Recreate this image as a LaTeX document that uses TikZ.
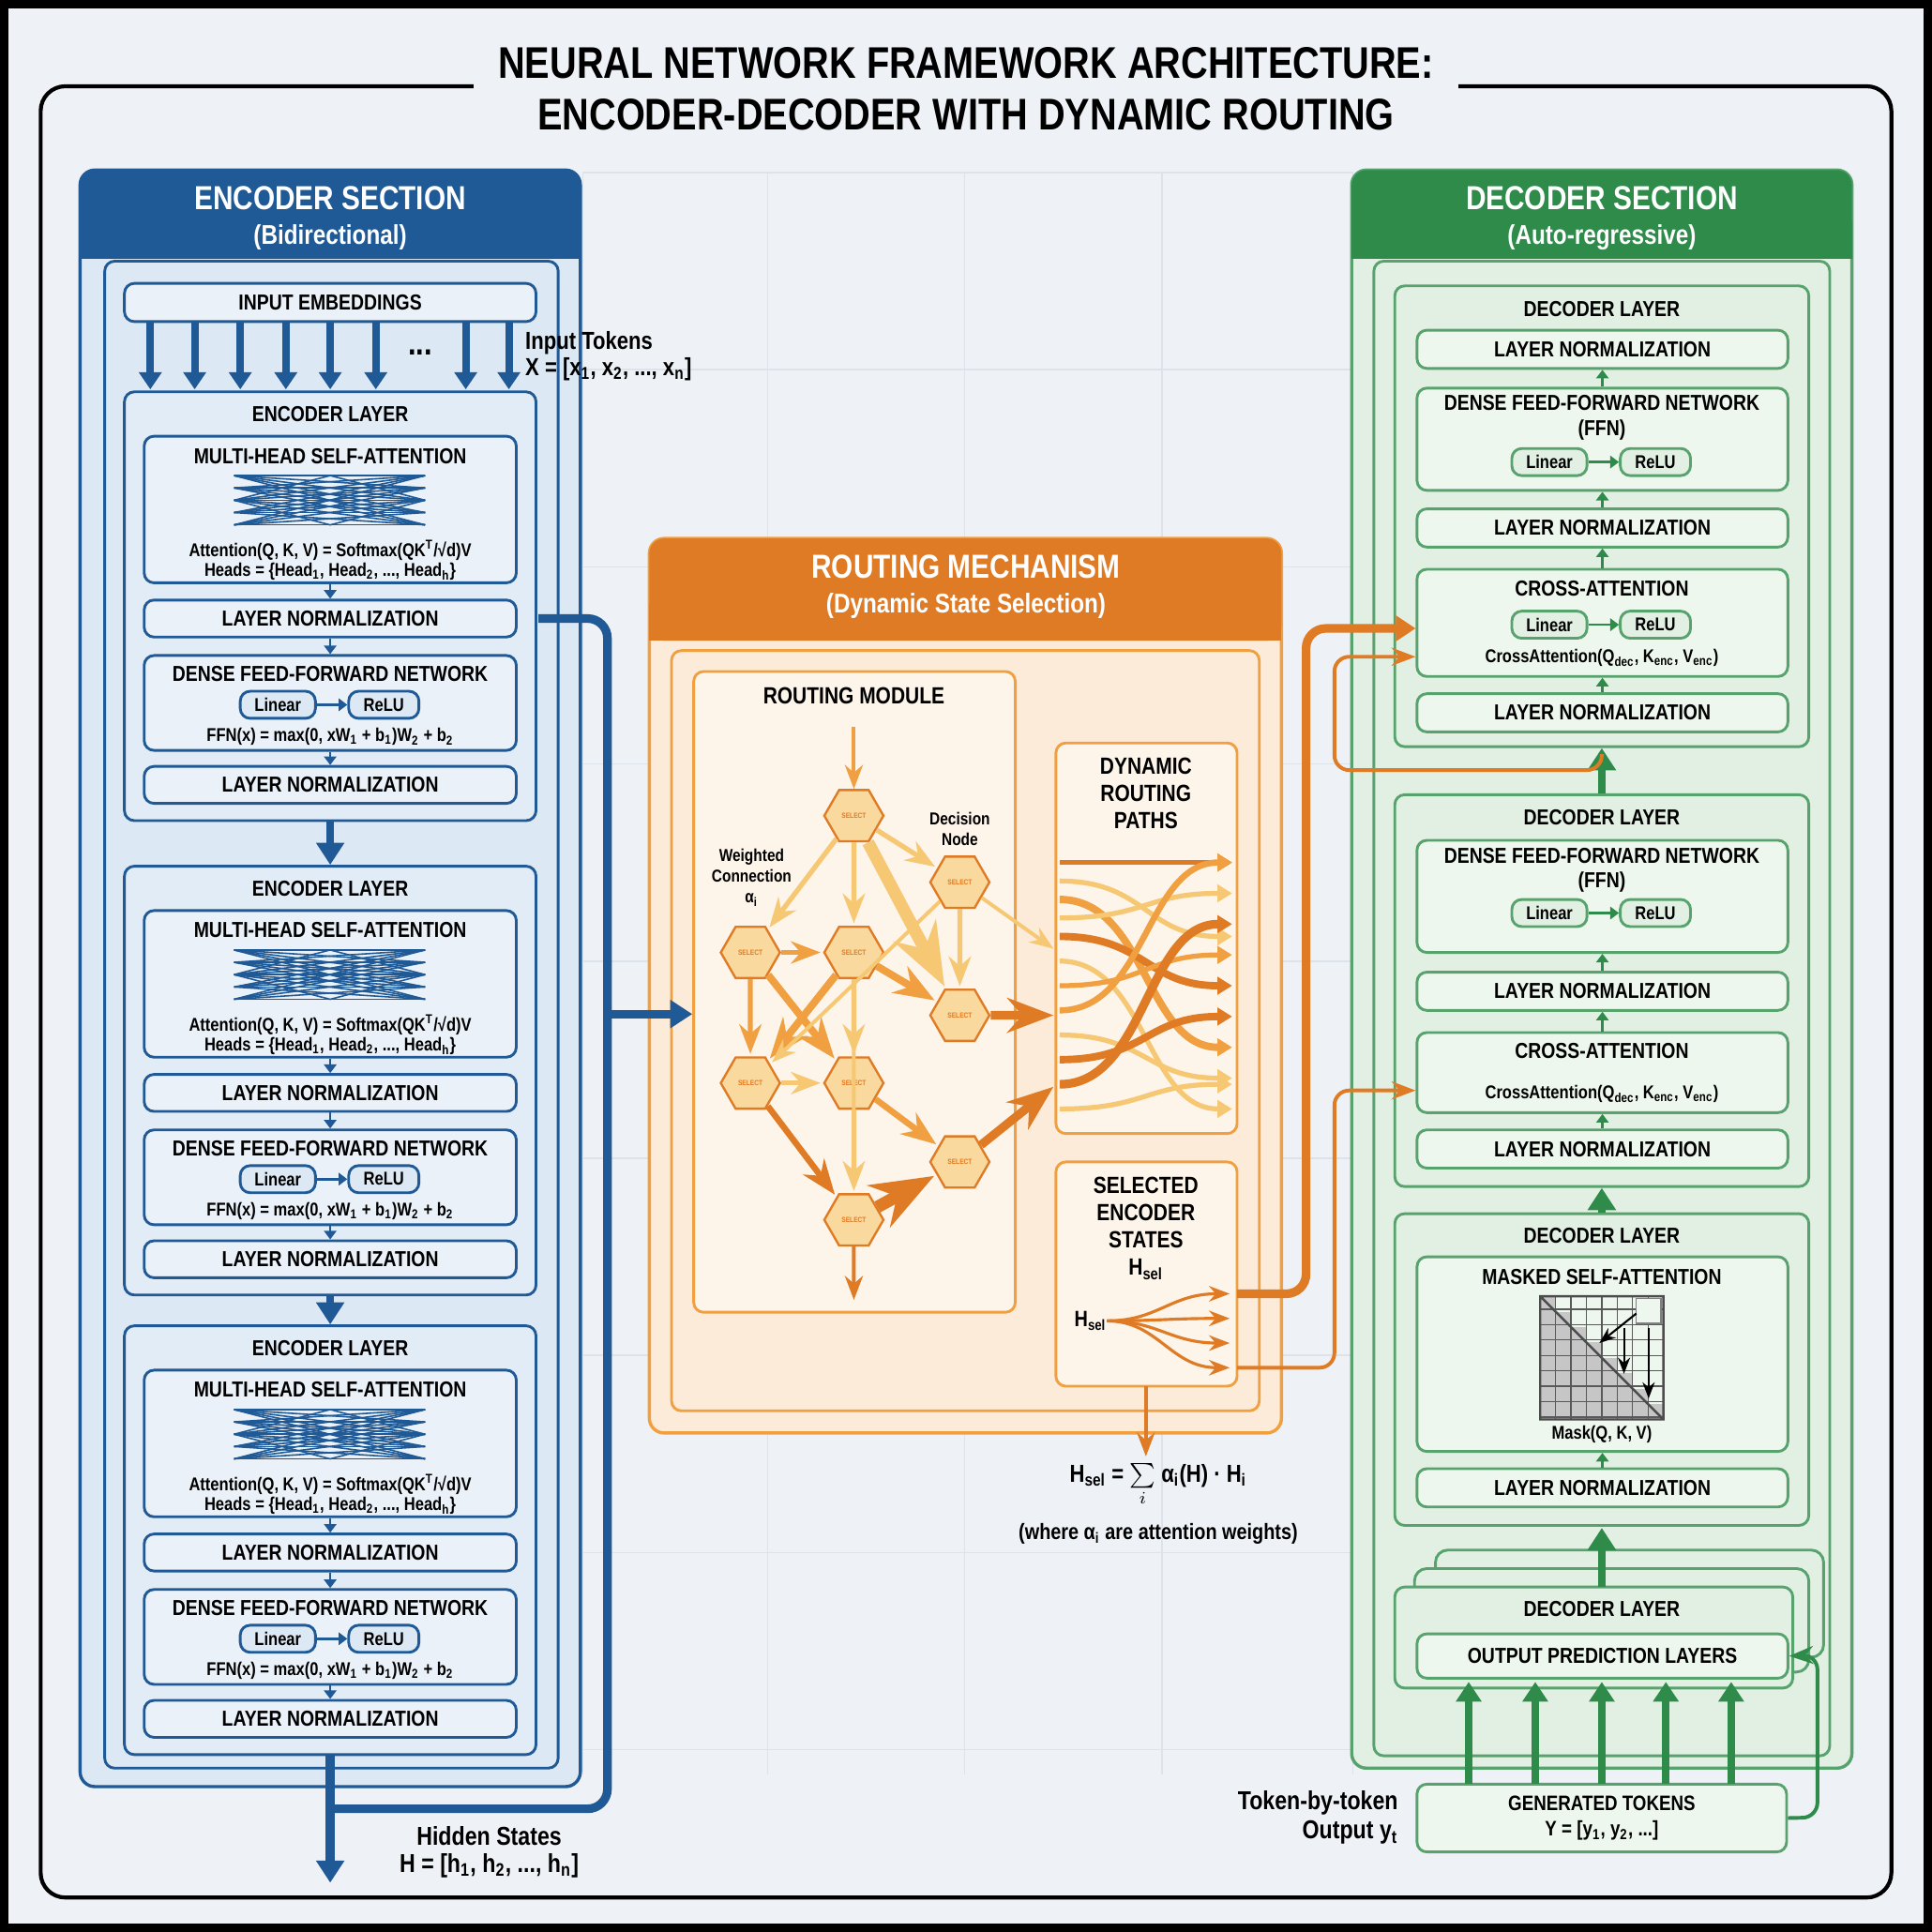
\documentclass[tikz,border=0pt]{standalone}
\usepackage{fontspec}
\setmainfont{Liberation Sans}[FakeStretch=0.84]
\usetikzlibrary{shapes.geometric,arrows.meta,positioning}
\definecolor{bgc}{HTML}{EEF2F6}
\definecolor{encd}{HTML}{1F5A96}
\definecolor{encl}{HTML}{DCE8F4}
\definecolor{encf}{HTML}{EAF1F8}
\definecolor{decd}{HTML}{2E8B4A}
\definecolor{decl}{HTML}{E2F0E3}
\definecolor{decf}{HTML}{EEF7EE}
\definecolor{rod}{HTML}{E07B25}
\definecolor{rol}{HTML}{FCEBD8}
\definecolor{rof}{HTML}{FDF4EA}
\definecolor{ro1}{HTML}{F7C873}
\definecolor{ro2}{HTML}{F0A040}
\definecolor{gridc}{HTML}{DDE3EA}
\newcommand\boxat[6]{\node[#1,minimum width={((#4)-(#2))*0.5pt},minimum height={((#5)-(#3))*0.5pt}] (#6) at ({((#2)+(#4))/2},{((#3)+(#5))/2}) {};}
\tikzset{
  lbl/.style={font=\fontsize{8.8}{10}\selectfont\bfseries,inner sep=0pt},
  sml/.style={font=\fontsize{7.5}{8.5}\selectfont\bfseries,inner sep=0pt},
  hdr/.style={font=\fontsize{13.5}{16}\selectfont\bfseries,white,align=center,inner sep=0pt},
  ebox/.style={draw=encd,line width=1.1pt,rounded corners=4pt,fill=encf,inner sep=0pt},
  dbox/.style={draw=decd!80,line width=1.1pt,rounded corners=4pt,fill=decf,inner sep=0pt},
  rbox/.style={draw=ro2,line width=1.1pt,rounded corners=4pt,fill=rof,inner sep=0pt},
  hexn/.style={regular polygon,regular polygon sides=6,minimum size=24pt,draw=rod,line width=0.9pt,fill=ro1!70,inner sep=0pt,font=\fontsize{3}{3}\selectfont\bfseries,text=rod},
  earr/.style={-{Triangle[length=3.5pt,width=5pt]},encd,line width=1pt},
  darr/.style={-{Triangle[length=3.5pt,width=5pt]},decd,line width=1pt},
  bigarr/.style={-{Triangle[length=9pt,width=11pt]},line width=3.5pt},
}
\begin{document}
\begin{tikzpicture}[x=0.5pt,y=-0.5pt]
\useasboundingbox (0,0) rectangle (1568,1568);
\fill[black] (0,0) rectangle (1568,1568);
\fill[bgc] (7,7) rectangle (1561,1561);
% faint grid
\foreach \gx in {473,623,783,943,1098} \draw[gridc,line width=0.6pt] (\gx,140) -- (\gx,1440);
\foreach \gy in {140,300,460,620,780,940,1100,1260,1420} \draw[gridc,line width=0.6pt] (473,\gy) -- (1098,\gy);
\draw[line width=1.6pt,rounded corners=10pt] (33,70) rectangle (1535,1540);
\node[fill=bgc,inner xsep=10pt,inner ysep=2pt,align=center,font=\fontsize{18}{21}\selectfont\bfseries] (title) at (784,72)
  {NEURAL NETWORK FRAMEWORK ARCHITECTURE:\\ENCODER-DECODER WITH DYNAMIC ROUTING};

% ===== encoder =====
\boxat{draw=encd,line width=1.3pt,fill=encl,rounded corners=6pt}{65}{138}{471}{1450}{encbody}
\fill[encd,rounded corners=6pt] (65,138) rectangle (471,210);
\fill[encd] (65,180) rectangle (471,210);
\node[hdr] (enchdr) at (268,177) {ENCODER SECTION\\[-2pt]\fontsize{11}{12}\selectfont(Bidirectional)};
\draw[encd,line width=1.1pt,rounded corners=4pt] (85,212) rectangle (453,1435);
\boxat{ebox}{101}{230}{435}{261}{emb}
\node[lbl] at (emb) {INPUT EMBEDDINGS};
\foreach \ax in {122,158,195,232,268,305,378,413}
  \draw[-{Triangle[length=7pt,width=9pt]},encd,line width=3pt] (\ax,262) -- (\ax,316);
\node[lbl,font=\fontsize{14}{14}\selectfont\bfseries] at (341,286) {...};
\node[lbl,anchor=west,font=\fontsize{10}{11}\selectfont\bfseries] (intok) at (426,278) {Input Tokens};
\node[lbl,anchor=west,font=\fontsize{10}{11}\selectfont\bfseries] (inx) at (426,300) {X = [x\textsubscript{1}, x\textsubscript{2}, ..., x\textsubscript{n}]};
\foreach \oy [count=\k] in {0,385,758}{
  \boxat{ebox,fill=encl!60!encf}{101}{318+\oy}{435}{666+\oy}{el\k}
  \node[lbl] at (268,336+\oy) {ENCODER LAYER};
  \boxat{ebox}{117}{354+\oy}{419}{473+\oy}{mh\k}
  \node[lbl] at (268,370+\oy) {MULTI-HEAD SELF-ATTENTION};
  \foreach \la in {386,396,406,416,426}
    \foreach \lb in {386,396,406,416,426}
      \draw[encd,line width=0.6pt] (190,\la+\oy) -- (345,\lb+\oy);
  \draw[encd,line width=0.6pt] (190,406+\oy) -- (268,386+\oy) -- (345,406+\oy) (190,406+\oy) -- (268,426+\oy) -- (345,406+\oy);
  \node[sml] at (268,447+\oy) {Attention(Q, K, V) = Softmax(QK\textsuperscript{T}/√d)V};
  \node[sml] at (268,464+\oy) {Heads = \{Head\textsubscript{1}, Head\textsubscript{2}, ..., Head\textsubscript{h}\}};
  \boxat{ebox}{117}{487+\oy}{419}{517+\oy}{lna\k}
  \node[lbl] at (lna\k) {LAYER NORMALIZATION};
  \boxat{ebox}{117}{532+\oy}{419}{609+\oy}{ffn\k}
  \node[lbl] at (268,547+\oy) {DENSE FEED-FORWARD NETWORK};
  \boxat{ebox,fill=encl}{195}{561+\oy}{256}{583+\oy}{lin\k}
  \node[sml] at (lin\k) {Linear};
  \boxat{ebox,fill=encl}{283}{561+\oy}{340}{583+\oy}{relu\k}
  \node[sml] at (relu\k) {ReLU};
  \draw[earr] (lin\k) -- (relu\k);
  \node[sml] at (268,598+\oy) {FFN(x) = max(0, xW\textsubscript{1} + b\textsubscript{1})W\textsubscript{2} + b\textsubscript{2}};
  \boxat{ebox}{117}{622+\oy}{419}{652+\oy}{lnb\k}
  \node[lbl] at (lnb\k) {LAYER NORMALIZATION};
  \draw[earr] (mh\k) -- (lna\k);
  \draw[earr] (lna\k) -- (ffn\k);
  \draw[earr] (ffn\k) -- (lnb\k);
}
\draw[bigarr,encd,line width=3pt] (el1) -- (el2);
\draw[bigarr,encd,line width=3pt] (el2) -- (el3);
\coordinate (hout) at (268,1528);
\draw[bigarr,encd] (el3) -- (hout);
\draw[encd,line width=3.5pt,rounded corners=8pt] (437,502) -- (493,502) -- (493,1468) -- (268,1468);
\node[lbl,font=\fontsize{10.5}{12}\selectfont\bfseries] (hst) at (397,1490) {Hidden States};
\node[lbl,font=\fontsize{10.5}{12}\selectfont\bfseries] at (397,1514) {H = [h\textsubscript{1}, h\textsubscript{2}, ..., h\textsubscript{n}]};

% ===== routing =====
\boxat{draw=ro2,line width=1.3pt,fill=rol,rounded corners=6pt}{527}{437}{1040}{1163}{robody}
\fill[rod,rounded corners=6pt] (527,437) rectangle (1040,520);
\fill[rod] (527,490) rectangle (1040,520);
\node[hdr] (rohdr) at (784,476) {ROUTING MECHANISM\\[-2pt]\fontsize{11}{12}\selectfont(Dynamic State Selection)};
\draw[ro2,line width=1.1pt,rounded corners=4pt] (545,528) rectangle (1022,1145);
\boxat{rbox}{563}{545}{824}{1065}{rmod}
\node[lbl,font=\fontsize{9.5}{11}\selectfont\bfseries] at (693,565) {ROUTING MODULE};
\boxat{rbox}{857}{603}{1004}{920}{dyn}
\node[lbl,align=center,font=\fontsize{9.5}{11}\selectfont\bfseries] at (930,644) {DYNAMIC\\ROUTING\\PATHS};
\boxat{rbox}{857}{943}{1004}{1125}{sel}
\node[lbl,align=center,font=\fontsize{9.5}{11}\selectfont\bfseries] at (930,997) {SELECTED\\ENCODER\\STATES\\H\textsubscript{sel}};
\draw[bigarr,encd,line width=3.5pt] (493,823) -- (rmod.west |- 0,823);
% hexagons
\foreach \n/\hx/\hy in {a/693/662,b/779/716,c/609/773,d/693/773,e/779/824,f/609/879,g/693/879,h/779/943,i/693/990}
  \node[hexn] (h\n) at (\hx,\hy) {SELECT};
\node[sml,align=center,font=\fontsize{7}{8.5}\selectfont\bfseries] at (610,712) {Weighted\\Connection\\α\textsubscript{i}};
\node[sml,align=center,font=\fontsize{7}{8.5}\selectfont\bfseries] at (779,673) {Decision\\Node};
\coordinate (rin) at (693,590);
\coordinate (rout) at (693,1055);
\draw[-{Stealth},ro2,line width=1.5pt] (rin) -- (ha);
\draw[-{Stealth},rod,line width=1.5pt] (hi) -- (rout);
\foreach \s/\t/\c/\w in {a/c/ro1/2,a/d/ro1/2,a/e/ro1/5,a/b/ro1/2,c/d/ro2/2,c/f/ro2/2,c/g/ro2/3,d/e/ro2/3,d/g/ro1/2,d/f/ro2/3,f/g/ro1/2,f/i/rod/2.5,g/h/ro2/2.5,g/i/ro1/2,b/e/ro1/2,d/i/ro1/1.5,i/h/rod/5,b/f/ro1/1.5}
  \draw[-{Stealth},\c,line width=\w pt,shorten >=1pt] (h\s) -- (h\t);
\draw[-{Stealth},ro1,line width=1.5pt] (hb) -- (855,770);
\draw[-{Stealth},rod,line width=3.5pt] (he) -- (855,824);
\draw[-{Stealth},rod,line width=3.5pt] (hh) -- (855,882);
\foreach \ya/\yb/\c/\w in {700/700/rod/2,715/760/ro1/2,730/850/ro2/3,745/725/ro1/2,760/800/rod/3,780/900/ro1/2,800/775/ro2/2,820/700/ro2/2.5,840/875/ro1/2,860/825/rod/3,880/750/rod/3.5,900/880/ro1/2}
  \draw[-{Triangle[length=6pt,width=7pt]},\c,line width=\w pt] (860,\ya) .. controls (930,\ya) and (930,\yb) .. (1000,\yb);
\node[lbl,font=\fontsize{9}{10}\selectfont\bfseries] (hsl) at (885,1072) {H\textsubscript{sel}};
\foreach \fy in {1050,1070,1090,1110}
  \draw[-{Stealth},rod,line width=1.2pt] (hsl.east) .. controls (940,1072) and (950,\fy) .. (998,\fy);
\coordinate (fml) at (930,1182);
\draw[-{Stealth},rod,line width=1.5pt] (930,1125) -- (fml);
\node[lbl,font=\fontsize{10}{11}\selectfont\bfseries] at (940,1205) {H\textsubscript{sel} = $\sum\limits_{i}$ α\textsubscript{i}(H) · H\textsubscript{i}};
\node[lbl,font=\fontsize{9}{10}\selectfont\bfseries] at (940,1245) {(where α\textsubscript{i} are attention weights)};

% ===== decoder =====
\boxat{draw=decd!80,line width=1.3pt,fill=decl,rounded corners=6pt}{1097}{138}{1503}{1435}{decbody}
\fill[decd,rounded corners=6pt] (1097,138) rectangle (1503,210);
\fill[decd] (1097,180) rectangle (1503,210);
\node[hdr] (dechdr) at (1300,177) {DECODER SECTION\\[-2pt]\fontsize{11}{12}\selectfont(Auto-regressive)};
\draw[decd!80,line width=1.1pt,rounded corners=4pt] (1115,212) rectangle (1485,1425);
% layer 1
\boxat{dbox,fill=decl}{1132}{232}{1468}{606}{dl1}
\node[lbl] at (1300,251) {DECODER LAYER};
\boxat{dbox}{1150}{268}{1451}{299}{dln1}  \node[lbl] at (dln1) {LAYER NORMALIZATION};
\boxat{dbox}{1150}{315}{1451}{398}{dff1}
\node[lbl,align=center] at (1300,339) {DENSE FEED-FORWARD NETWORK\\(FFN)};
\boxat{dbox,fill=decl}{1227}{364}{1288}{386}{dlin1} \node[sml] at (dlin1) {Linear};
\boxat{dbox,fill=decl}{1315}{364}{1372}{386}{drel1} \node[sml] at (drel1) {ReLU};
\draw[darr] (dlin1) -- (drel1);
\boxat{dbox}{1150}{413}{1451}{444}{dln2}  \node[lbl] at (dln2) {LAYER NORMALIZATION};
\boxat{dbox}{1150}{462}{1451}{549}{dca1}
\node[lbl] at (1300,478) {CROSS-ATTENTION};
\boxat{dbox,fill=decl}{1227}{496}{1288}{518}{dlin2} \node[sml] at (dlin2) {Linear};
\boxat{dbox,fill=decl}{1315}{496}{1372}{518}{drel2} \node[sml] at (drel2) {ReLU};
\draw[darr] (dlin2) -- (drel2);
\node[sml] at (1300,534) {CrossAttention(Q\textsubscript{dec}, K\textsubscript{enc}, V\textsubscript{enc})};
\boxat{dbox}{1150}{563}{1451}{594}{dln3}  \node[lbl] at (dln3) {LAYER NORMALIZATION};
\draw[darr] (dff1) -- (dln1); \draw[darr] (dln2) -- (dff1); \draw[darr] (dca1) -- (dln2); \draw[darr] (dln3) -- (dca1);
% layer 2
\boxat{dbox,fill=decl}{1132}{645}{1468}{963}{dl2}
\node[lbl] at (1300,663) {DECODER LAYER};
\boxat{dbox}{1150}{682}{1451}{773}{dff2}
\node[lbl,align=center] at (1300,706) {DENSE FEED-FORWARD NETWORK\\(FFN)};
\boxat{dbox,fill=decl}{1227}{730}{1288}{752}{dlin3} \node[sml] at (dlin3) {Linear};
\boxat{dbox,fill=decl}{1315}{730}{1372}{752}{drel3} \node[sml] at (drel3) {ReLU};
\draw[darr] (dlin3) -- (drel3);
\boxat{dbox}{1150}{789}{1451}{820}{dln4}  \node[lbl] at (dln4) {LAYER NORMALIZATION};
\boxat{dbox}{1150}{838}{1451}{903}{dca2}
\node[lbl] at (1300,853) {CROSS-ATTENTION};
\node[sml] at (1300,888) {CrossAttention(Q\textsubscript{dec}, K\textsubscript{enc}, V\textsubscript{enc})};
\boxat{dbox}{1150}{917}{1451}{948}{dln5}  \node[lbl] at (dln5) {LAYER NORMALIZATION};
\draw[darr] (dln4) -- (dff2); \draw[darr] (dca2) -- (dln4); \draw[darr] (dln5) -- (dca2);
% layer 3
\boxat{dbox,fill=decl}{1132}{985}{1468}{1238}{dl3}
\node[lbl] at (1300,1003) {DECODER LAYER};
\boxat{dbox}{1150}{1020}{1451}{1178}{dmsa}
\node[lbl] at (1300,1036) {MASKED SELF-ATTENTION};
\foreach \r in {0,...,7} \foreach \c in {0,...,\r}
  \fill[gray!45] (1250+\c*12.5,1052+\r*12.5) rectangle ++(12.5,12.5);
\draw[gray!70!black,line width=0.5pt,step=6.25pt] (1250,1052) grid (1350,1152);
\draw[black!70,line width=0.9pt] (1250,1052) rectangle (1350,1152) (1250,1052) -- (1350,1152);
\fill[decf,draw=gray] (1328,1054) rectangle (1348,1074);
\draw[-{Stealth},line width=0.8pt] (1328,1066) -- (1298,1090);
\draw[-{Stealth},line width=0.8pt] (1318,1078) -- (1318,1115);
\draw[-{Stealth},line width=0.8pt] (1338,1078) -- (1338,1135);
\node[sml] at (1300,1164) {Mask(Q, K, V)};
\boxat{dbox}{1150}{1192}{1451}{1223}{dln6}  \node[lbl] at (dln6) {LAYER NORMALIZATION};
\draw[darr] (dln6) -- (dmsa);
% stacked layer
\draw[decd!80,line width=1.1pt,fill=decl,rounded corners=5pt] (1165,1258) rectangle (1480,1345);
\draw[decd!80,line width=1.1pt,fill=decl,rounded corners=5pt] (1148,1273) rectangle (1468,1357);
\boxat{dbox,fill=decl}{1132}{1288}{1455}{1370}{dl4}
\node[lbl] at (1300,1306) {DECODER LAYER};
\boxat{dbox}{1150}{1326}{1451}{1362}{dout}  \node[lbl] at (dout) {OUTPUT PREDICTION LAYERS};
\draw[bigarr,decd,line width=3pt] (1300,1288) -- (1300,1240);
\draw[bigarr,decd,line width=3pt] (dl3.north) -- (dl2.south);
\draw[bigarr,decd,line width=3pt] (dl2.north) -- (dl1.south);
\boxat{dbox}{1150}{1448}{1450}{1503}{gen}
\node[lbl,font=\fontsize{8.5}{10.5}\selectfont\bfseries,align=center] at (gen) {GENERATED TOKENS\\Y = [y\textsubscript{1}, y\textsubscript{2}, ...]};
\foreach \gx in {1192,1246,1300,1352,1405}
  \draw[-{Triangle[length=8pt,width=10pt]},decd,line width=3pt] (\gx,1448) -- (\gx,1365);
\draw[-{Stealth},decd,line width=1.5pt,rounded corners=6pt] (gen.east) -- (1475,1475) -- (1475,1343) -- (dout.east);
\node[lbl,font=\fontsize{10.5}{12}\selectfont\bfseries,align=right,anchor=east] at (1135,1475) {Token-by-token\\Output y\textsubscript{t}};
% routing to decoder
\draw[-{Triangle[length=8pt,width=10pt]},rod,line width=3.5pt,rounded corners=8pt] (1004,1050) -- (1060,1050) -- (1060,510) -- (dca1.west |- 0,510);
\draw[-{Stealth},rod,line width=1.5pt,rounded corners=6pt] (1300,612) |- (1083,625) -- (1083,533) -- (dca1.west |- 0,533);
\draw[-{Stealth},rod,line width=1.5pt,rounded corners=6pt] (1004,1110) -- (1083,1110) -- (1083,885) -- (dca2.west |- 0,885);
\end{tikzpicture}
\end{document}
